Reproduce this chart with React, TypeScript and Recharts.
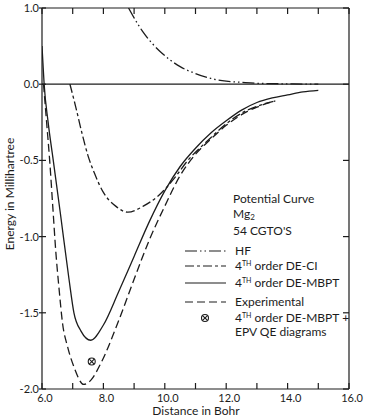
import React from 'react';
import { ComposedChart, Line, Scatter, XAxis, YAxis, ReferenceLine } from 'recharts';

// Mg2 potential curves, energy in millihartree vs distance in bohr
const hfX = [8.82, 9.0, 9.3, 9.6, 9.9, 10.2, 10.5, 11.0, 11.5, 12.0, 12.5, 13.0, 14.0, 15.0];
const hfE = [1.0, 0.87, 0.68, 0.53, 0.41, 0.31, 0.23, 0.14, 0.075, 0.04, 0.025, 0.012, 0.004, 0.0];

const ciX = [6.91, 7.1, 7.3, 7.5, 7.7, 8.0, 8.4, 8.8, 9.3, 9.8, 10.3, 10.75, 11.4, 12.0, 12.5, 13.0, 13.6];
const ciE = [0, -0.15, -0.32, -0.47, -0.58, -0.71, -0.8, -0.84, -0.8, -0.73, -0.62, -0.5, -0.37, -0.26, -0.19, -0.145, -0.11];

const mbptX = [6.0, 6.03, 6.07, 6.2, 6.36, 6.6, 6.88, 7.04, 7.27, 7.59, 8.0, 8.5, 9.0, 9.5, 10.0, 10.5, 11.0, 11.5, 12.0, 12.5, 13.0, 13.5, 14.0, 14.5, 15.0];
const mbptE = [0.5, 0.28, 0.0, -0.25, -0.49, -0.85, -1.28, -1.5, -1.62, -1.68, -1.58, -1.36, -1.13, -0.9, -0.7, -0.54, -0.42, -0.32, -0.24, -0.17, -0.12, -0.09, -0.07, -0.05, -0.04];

const expX = [6.05, 6.15, 6.25, 6.35, 6.45, 6.55, 6.67, 6.83, 7.05, 7.36, 7.6, 7.92, 8.5, 9.0, 9.5, 10.0, 10.5, 11.0, 11.5, 12.0, 12.5, 13.0, 13.6];
const expE = [0, -0.25, -0.5, -0.8, -1.1, -1.33, -1.57, -1.72, -1.86, -1.97, -1.94, -1.83, -1.55, -1.28, -1.02, -0.8, -0.6, -0.46, -0.36, -0.27, -0.2, -0.15, -0.11];

const epvX = [7.62];
const epvE = [-1.82];

const xTicks = [6, 7, 8, 9, 10, 11, 12, 13, 14, 15, 16];
// positive energies are drawn at half scale on the original plot
const yTicks = [-2, -1.5, -1, -0.5, 0, 1.0];

const toAxis = (e: number) => (e > 0 ? e / 2 : e);
const build = (xs: number[], es: number[]) => xs.map((x, i) => ({ x, y: toAxis(es[i]) }));

const hfData = build(hfX, hfE);
const ciData = build(ciX, ciE);
const mbptData = build(mbptX, mbptE);
const expData = build(expX, expE);
const epvData = build(epvX, epvE);

const INK = '#1c1c1c';
const FONT = 'Lato, "Liberation Sans", sans-serif';

const W = 370;
const H = 420;
const PLOT_TOP = 8;
const PLOT_RIGHT = 349;
const TICK = 6;

const HF_DASH = '12 3 1.5 3 1.5 3';
const CI_DASH = '9 3 3 3';
const EXP_DASH = '8 4';

// bottom tick also draws the matching inward tick on the top border
const BottomTick = (props: any) => {
  const { x, y, payload } = props;
  const v = payload.value as number;
  return (
    <g>
      <line x1={x} x2={x} y1={y} y2={y - TICK} stroke={INK} strokeWidth={1.2} />
      <line x1={x} x2={x} y1={PLOT_TOP} y2={PLOT_TOP + TICK} stroke={INK} strokeWidth={1.2} />
      {v % 2 === 0 && (
        <text x={x + 3} y={y + 13} textAnchor="middle" fontSize={11} fontFamily={FONT} fill={INK}>
          {v.toFixed(1)}
        </text>
      )}
    </g>
  );
};

// left tick crosses the axis; matching inward tick on the right border
const LeftTick = (props: any) => {
  const { x, y, payload } = props;
  const v = payload.value as number;
  const label = v > 0 ? (v * 2).toFixed(1) : v.toFixed(1);
  return (
    <g>
      <line x1={x - 3} x2={x + 4} y1={y} y2={y} stroke={INK} strokeWidth={1.2} />
      <line x1={PLOT_RIGHT} x2={PLOT_RIGHT - TICK} y1={y} y2={y} stroke={INK} strokeWidth={1.2} />
      <text x={x - 3} y={y + 4} textAnchor="end" fontSize={11} fontFamily={FONT} fill={INK}>
        {label}
      </text>
    </g>
  );
};

const OTimes = (props: any) => {
  const { cx, cy } = props;
  const r = 3.5;
  const d = r * 0.7;
  return (
    <g stroke={INK} strokeWidth={1.1} fill="none">
      <circle cx={cx} cy={cy} r={r} />
      <line x1={cx - d} y1={cy - d} x2={cx + d} y2={cy + d} />
      <line x1={cx - d} y1={cy + d} x2={cx + d} y2={cy - d} />
    </g>
  );
};

const Sup = ({ children }: { children: string }) => (
  <tspan fontSize={7} dy={-4}>{children}</tspan>
);

const Overlay = () => {
  const lx1 = 185;
  const lx2 = 226;
  const tx = 235;
  return (
    <svg width={W} height={H} style={{ position: 'absolute', left: 0, top: 0, pointerEvents: 'none' }}>
      <g fontFamily={FONT} fontSize={12} fill={INK}>
        <text x={233} y={203}>Potential Curve</text>
        <text x={233} y={218}>
          Mg<tspan fontSize={8} dy={2}>2</tspan>
        </text>
        <text x={233} y={235}>54 CGTO'S</text>

        <line x1={lx1} x2={lx2} y1={251} y2={251} stroke={INK} strokeWidth={1.2} strokeDasharray={HF_DASH} />
        <text x={tx} y={255}>HF</text>

        <line x1={lx1} x2={lx2} y1={266} y2={266} stroke={INK} strokeWidth={1.2} strokeDasharray={CI_DASH} />
        <text x={tx} y={270}>
          4<Sup>TH</Sup><tspan dy={4}> order DE-CI</tspan>
        </text>

        <line x1={lx1} x2={lx2} y1={283} y2={283} stroke={INK} strokeWidth={1.2} />
        <text x={tx} y={287}>
          4<Sup>TH</Sup><tspan dy={4}> order DE-MBPT</tspan>
        </text>

        <line x1={lx1} x2={lx2} y1={302} y2={302} stroke={INK} strokeWidth={1.2} strokeDasharray={EXP_DASH} />
        <text x={tx} y={306}>Experimental</text>

        <OTimes cx={205} cy={318} />
        <text x={tx} y={322}>
          4<Sup>TH</Sup><tspan dy={4}> order DE-MBPT +</tspan>
        </text>
        <text x={tx} y={336}>EPV QE diagrams</text>

        <text x={196} y={415} textAnchor="middle">Distance in Bohr</text>
        <text x={0} y={0} textAnchor="middle" transform="translate(14 194) rotate(-90)">
          Energy in Millihartree
        </text>
      </g>
    </svg>
  );
};

export default function App() {
  return (
    <div style={{ position: 'absolute', left: 0, top: 0, width: W, height: H, background: '#fff' }}>
      <ComposedChart width={W} height={H} margin={{ top: 7, right: 20, bottom: 0, left: 0 }}>
        <XAxis
          xAxisId={0}
          dataKey="x"
          type="number"
          domain={[6, 16]}
          ticks={xTicks}
          height={31}
          tickSize={0}
          tickMargin={0}
          tickLine={false}
          axisLine={{ stroke: INK, strokeWidth: 1.2 }}
          tick={BottomTick}
          interval={0}
          allowDataOverflow
        />
        <XAxis
          xAxisId="top"
          orientation="top"
          type="number"
          domain={[6, 16]}
          height={1}
          tickLine={false}
          axisLine={{ stroke: INK, strokeWidth: 1.2 }}
          tick={false}
          allowDataOverflow
        />
        <YAxis
          yAxisId={0}
          type="number"
          domain={[-2, 0.5]}
          ticks={yTicks.map(toAxis)}
          width={42}
          tickSize={0}
          tickMargin={0}
          tickLine={false}
          axisLine={{ stroke: INK, strokeWidth: 1.2 }}
          tick={LeftTick}
          interval={0}
          allowDataOverflow
        />
        <YAxis
          yAxisId="right"
          orientation="right"
          type="number"
          domain={[-2, 0.5]}
          width={1}
          tickLine={false}
          axisLine={{ stroke: INK, strokeWidth: 1.2 }}
          tick={false}
          allowDataOverflow
        />
        <ReferenceLine y={0} stroke={INK} strokeWidth={1.2} />
        <Line data={hfData} dataKey="y" type="monotone" stroke={INK} strokeWidth={1.3} strokeDasharray={HF_DASH} dot={false} isAnimationActive={false} />
        <Line data={ciData} dataKey="y" type="monotone" stroke={INK} strokeWidth={1.3} strokeDasharray={CI_DASH} dot={false} isAnimationActive={false} />
        <Line data={mbptData} dataKey="y" type="monotone" stroke={INK} strokeWidth={1.3} dot={false} isAnimationActive={false} />
        <Line data={expData} dataKey="y" type="monotone" stroke={INK} strokeWidth={1.3} strokeDasharray={EXP_DASH} dot={false} isAnimationActive={false} />
        <Scatter data={epvData} dataKey="y" shape={OTimes} isAnimationActive={false} />
      </ComposedChart>
      <Overlay />
    </div>
  );
}
